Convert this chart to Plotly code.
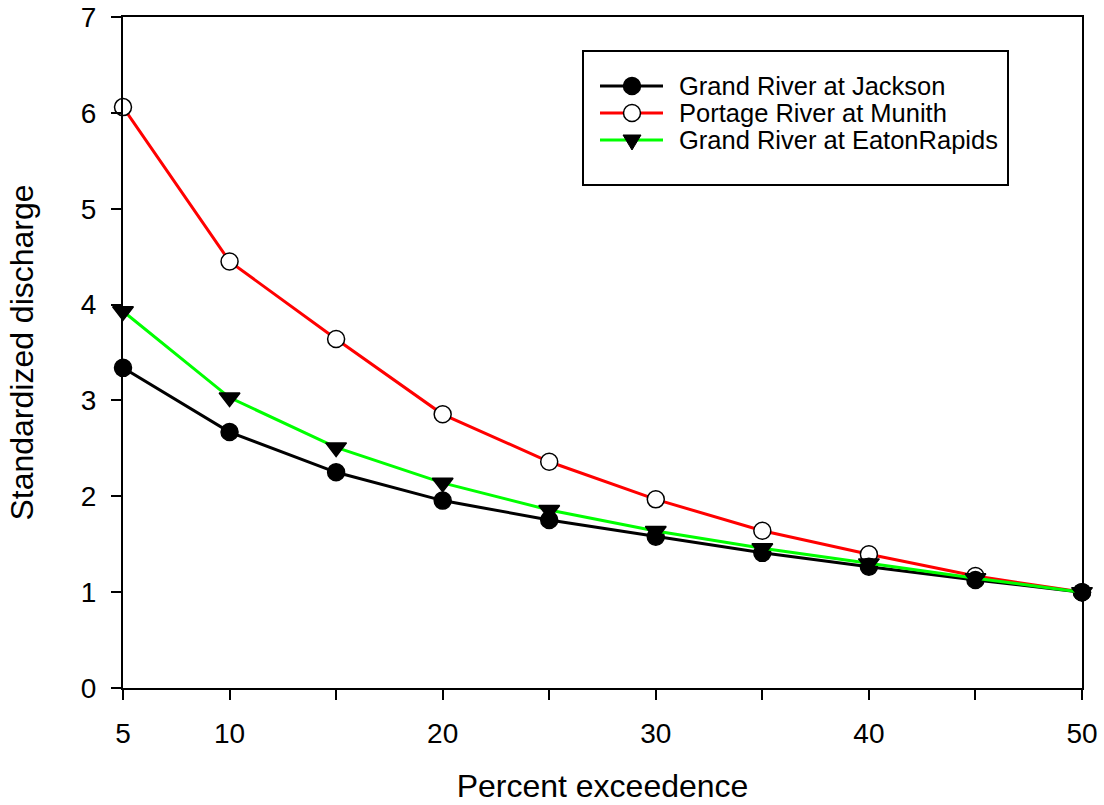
import plotly.graph_objects as go

percent = [5, 10, 15, 20, 25, 30, 35, 40, 45, 50]
jackson = [3.34, 2.67, 2.25, 1.955, 1.753, 1.578, 1.41, 1.265, 1.127, 1.0]
munith = [6.06, 4.45, 3.64, 2.855, 2.36, 1.968, 1.64, 1.395, 1.168, 1.0]
eaton = [3.93, 3.03, 2.51, 2.14, 1.857, 1.638, 1.457, 1.30, 1.144, 1.0]

series_names = ["Grand River at Jackson", "Portage River at Munith", "Grand River at EatonRapids"]
series_colors = ["black", "#ff0000", "#00ff00"]
marker_fills = ["black", "white", "black"]
marker_symbols = ["circle", "circle", "triangle-down"]

x_tickvals = [5, 10, 15, 20, 25, 30, 35, 40, 45, 50]
x_ticktext = ["5", "10", "", "20", "", "30", "", "40", "", "50"]
y_tickvals = [0, 1, 2, 3, 4, 5, 6, 7]

FONT = "Liberation Sans, Arial, sans-serif"
W, H = 1104, 805
ML, MR, MT, MB = 123, 22, 17, 117
PW, PH = W - ML - MR, H - MT - MB


def px_x(px):
    return (px - ML) / PW


def px_y(py):
    return (H - MB - py) / PH


fig = go.Figure()
data_sets = [jackson, munith, eaton]
for idx in [1, 0, 2]:
    fig.add_trace(go.Scatter(
        x=percent, y=data_sets[idx], mode="lines+markers", name=series_names[idx],
        line=dict(color=series_colors[idx], width=3),
        marker=dict(symbol=marker_symbols[idx], size=18 if idx == 2 else 17,
                    color=marker_fills[idx], line=dict(color="black", width=1.5)),
        cliponaxis=False, showlegend=False,
    ))

axis_common = dict(
    showline=True, linecolor="black", linewidth=2, mirror=True,
    ticks="outside", ticklen=10, tickwidth=2, tickcolor="black",
    showgrid=False, zeroline=False, automargin=False,
    tickfont=dict(family=FONT, size=28, color="black"),
)

fig.update_xaxes(
    range=[5, 50], tickmode="array", tickvals=x_tickvals, ticktext=x_ticktext,
    ticklabelstandoff=9,
    title=dict(text="Percent exceedence", font=dict(family=FONT, size=32, color="black"), standoff=27),
    **axis_common,
)
fig.update_yaxes(
    range=[0, 7], tickmode="array", tickvals=y_tickvals,
    ticklabelstandoff=9,
    title=dict(text="Standardized discharge", font=dict(family=FONT, size=32, color="black"), standoff=38),
    **axis_common,
)

# legend drawn as decoration
shapes = [dict(type="rect", xref="paper", yref="paper", layer="above",
               x0=px_x(583), x1=px_x(1008), y0=px_y(185), y1=px_y(51),
               fillcolor="white", line=dict(color="black", width=2))]
annotations = []
rows = [86, 113, 140]
for i, ry in enumerate(rows):
    yy = px_y(ry)
    shapes.append(dict(type="line", xref="paper", yref="paper", layer="above",
                       x0=px_x(600), x1=px_x(663), y0=yy, y1=yy,
                       line=dict(color=series_colors[i], width=3)))
    if marker_symbols[i] == "circle":
        shapes.append(dict(type="circle", xref="paper", yref="paper", layer="above",
                           xsizemode="pixel", ysizemode="pixel",
                           xanchor=px_x(632), yanchor=yy,
                           x0=-8.5, x1=8.5, y0=-8.5, y1=8.5,
                           fillcolor=marker_fills[i], line=dict(color="black", width=1.5)))
    else:
        shapes.append(dict(type="path", xref="paper", yref="paper", layer="above",
                           xsizemode="pixel", ysizemode="pixel",
                           xanchor=px_x(632), yanchor=yy,
                           path="M -9,5 L 9,5 L 0,-10 Z",
                           fillcolor="black", line=dict(color="black", width=1)))
    annotations.append(dict(xref="paper", yref="paper", x=px_x(677), y=yy,
                            xanchor="left", yanchor="middle", showarrow=False,
                            text=series_names[i],
                            font=dict(family=FONT, size=25.5, color="black")))

fig.update_layout(
    width=W, height=H,
    margin=dict(l=ML, r=MR, t=MT, b=MB),
    plot_bgcolor="white", paper_bgcolor="white",
    showlegend=False,
    shapes=shapes, annotations=annotations,
)

fig.write_html("out.html")
